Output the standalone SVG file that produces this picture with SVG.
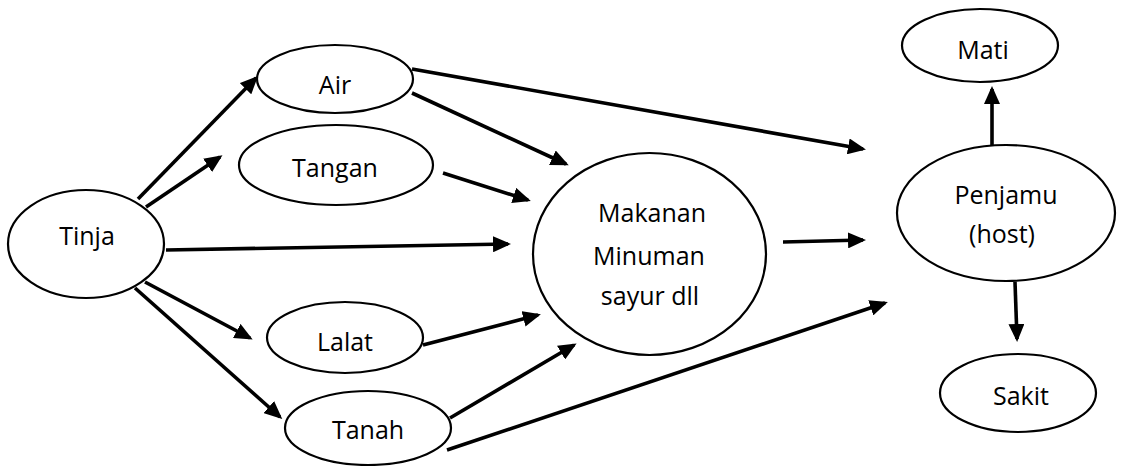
<svg xmlns="http://www.w3.org/2000/svg" width="1122" height="466" viewBox="0 0 1122 466">
<defs>
<style>
.node ellipse{fill:#fff;stroke:#000;stroke-width:2.2}
.node text{font-family:"Open Sans","Liberation Sans",sans-serif;font-size:25px;fill:#000;text-anchor:middle}
.edges line{stroke:#000;stroke-width:3.6;marker-end:url(#ah)}
</style>
<marker id="ah" markerUnits="userSpaceOnUse" markerWidth="18" markerHeight="16" refX="15" refY="8" orient="auto">
<path d="M0,0 L18,8 L0,16 z" fill="#000"/>
</marker>
</defs>
<rect width="1122" height="466" fill="#fff"/>
<g class="edges" id="connectors">
<line x1="138" y1="199" x2="256" y2="78"/>
<line x1="146" y1="207" x2="220" y2="157"/>
<line x1="166" y1="250" x2="508" y2="244"/>
<line x1="145" y1="282" x2="250" y2="338"/>
<line x1="135" y1="288" x2="280" y2="417"/>
<line x1="412" y1="69" x2="863" y2="149"/>
<line x1="412" y1="93" x2="566" y2="164"/>
<line x1="443" y1="173" x2="528" y2="200"/>
<line x1="423" y1="345" x2="538" y2="315"/>
<line x1="450" y1="418" x2="574" y2="345"/>
<line x1="447" y1="450" x2="885" y2="303"/>
<line x1="783" y1="242" x2="863" y2="240"/>
<line x1="992" y1="145" x2="992" y2="89"/>
<line x1="1015" y1="282" x2="1017" y2="339"/>
</g>
<g class="node" id="tinja"><ellipse cx="86" cy="244" rx="78" ry="54"/><text x="87" y="245">Tinja</text></g>
<g class="node" id="air"><ellipse cx="335" cy="79" rx="78" ry="34"/><text x="335" y="94">Air</text></g>
<g class="node" id="tangan"><ellipse cx="336" cy="165" rx="97" ry="40"/><text x="335" y="177">Tangan</text></g>
<g class="node" id="lalat"><ellipse cx="345" cy="337.5" rx="78" ry="35.5"/><text x="345" y="351">Lalat</text></g>
<g class="node" id="tanah"><ellipse cx="368" cy="428" rx="83" ry="37"/><text x="368" y="439">Tanah</text></g>
<g class="node" id="makanan"><ellipse cx="649.5" cy="254" rx="116.5" ry="101"/>
<text x="652" y="222">Makanan</text><text x="649" y="265">Minuman</text><text x="650" y="305">sayur dll</text></g>
<g class="node" id="penjamu"><ellipse cx="1006" cy="213" rx="109" ry="68"/><text x="1006" y="204">Penjamu</text><text x="1002" y="243">(host)</text></g>
<g class="node" id="mati"><ellipse cx="980" cy="45.5" rx="78" ry="36.5"/><text x="983" y="59">Mati</text></g>
<g class="node" id="sakit"><ellipse cx="1018" cy="393" rx="78" ry="39"/><text x="1021" y="405">Sakit</text></g>
</svg>
